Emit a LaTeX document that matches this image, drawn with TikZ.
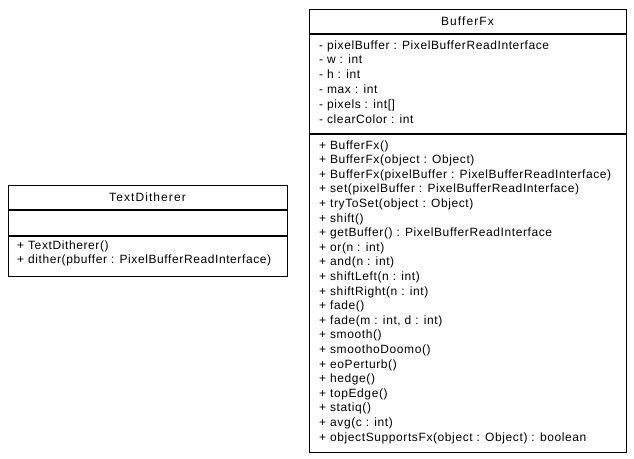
\documentclass[tikz,border=0pt]{standalone}
\usepackage{fontspec}
\setmainfont{Liberation Sans}
\usetikzlibrary{positioning}
\tikzset{
  compart/.style={draw, line width=0.9pt, inner sep=0pt, anchor=north west},
  member/.style={anchor=base west, inner sep=0pt,
    font=\fontsize{12}{14}\selectfont\addfontfeatures{LetterSpace=5}},
  classname/.style={anchor=base, inner sep=0pt,
    font=\fontsize{12}{14}\selectfont\addfontfeatures{LetterSpace=9}}
}

\begin{document}
\begin{tikzpicture}[x=1pt,y=-1pt]
          \useasboundingbox (0,0) rectangle (634,458);
          % TextDitherer
          \node[compart, minimum width=279pt, minimum height=24pt] (ditName) at (8,185) {};
          \node[compart, minimum width=279pt, minimum height=25pt] (ditAttr) at (ditName.south west) {};
          \node[compart, minimum width=279pt, minimum height=40pt] (ditOps) at (ditAttr.south west) {};
          \node[classname] (ditTitle) at (147.5,201.5) {TextDitherer};
          \node[member] (ditOp1) at (17,249) {+ TextDitherer()};
          \node[member] (ditOp2) at (17,263.5) {+ dither(pbuffer : PixelBufferReadInterface)};
          % BufferFx
          \node[compart, minimum width=317pt, minimum height=24pt] (bufName) at (309,9) {};
          \node[compart, minimum width=317pt, minimum height=99pt] (bufAttr) at (bufName.south west) {};
          \node[compart, minimum width=317pt, minimum height=318pt] (bufOps) at (bufAttr.south west) {};
          \node[classname] (bufTitle) at (467.5,25.5) {BufferFx};
          \foreach \txt [count=\i from 0] in {
               - pixelBuffer : PixelBufferReadInterface,
               - w : int, - h : int, - max : int, - pixels : int[],
               - clearColor : int}
            \node[member] (bufAttr\i) at (319,49+14.8*\i) {\txt};
          \foreach \txt [count=\i from 0] in {
               + BufferFx(), + BufferFx(object : Object),
               + BufferFx(pixelBuffer : PixelBufferReadInterface),
               + set(pixelBuffer : PixelBufferReadInterface),
               + tryToSet(object : Object), + shift(),
               + getBuffer() : PixelBufferReadInterface,
               + or(n : int), + and(n : int), + shiftLeft(n : int),
               + shiftRight(n : int), + fade(), {+ fade(m : int, d : int)},
               + smooth(), + smoothoDoomo(), + eoPerturb(), + hedge(),
               + topEdge(), + statiq(), + avg(c : int),
               + objectSupportsFx(object : Object) : boolean}
            \node[member] (bufOp\i) at (319,149+14.6*\i) {\txt};
        \end{tikzpicture}
\end{document}
